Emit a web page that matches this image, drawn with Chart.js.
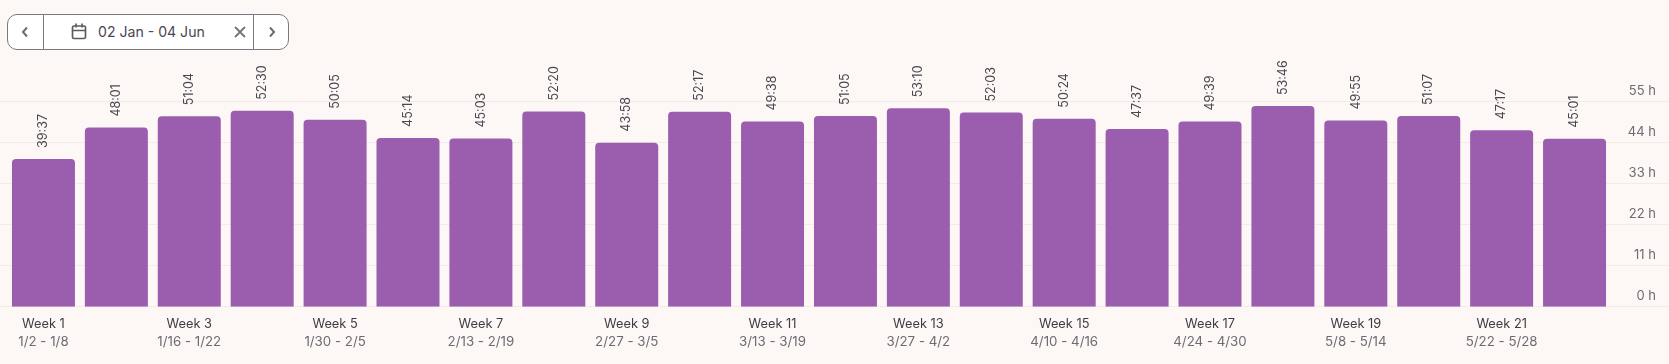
<!DOCTYPE html>
<html>
<head>
<meta charset="utf-8">
<script src="https://cdn.jsdelivr.net/npm/chart.js@4/dist/chart.umd.min.js"></script>
<style>
html,body{margin:0;padding:0;background:#FDF8F6;width:1669px;height:364px;overflow:hidden;font-family:Inter,sans-serif}
#wrap{position:relative;width:1669px;height:364px}
canvas{position:absolute;left:0;top:0}
#picker{position:absolute;left:7px;top:14px;width:282px;height:36px;box-sizing:border-box;border:1px solid #7d7880;border-radius:10px;background:#fff;color:#4b4650;font-size:14.1px;overflow:hidden}
#picker .d{position:absolute;top:0;bottom:0;width:1px;background:#7d7880}
#picker svg{position:absolute}
#picker span{position:absolute;left:90px;top:8px;line-height:18px;white-space:nowrap}
</style>
</head>
<body>
<div id="wrap">
<canvas id="c" width="1669" height="364"></canvas>
<div id="picker">
  <div class="d" style="left:35px"></div>
  <div class="d" style="left:245px"></div>
  <svg style="left:11px;top:11px" width="12" height="12" viewBox="0 0 12 12" fill="none" stroke="#6f6a73" stroke-width="2"><path d="M8 1.5 L4 6 L8 10.5"/></svg>
  <svg style="left:63px;top:8px" width="16" height="18" viewBox="0 0 16 18" fill="none" stroke="#5f5a63" stroke-width="1.7"><rect x="1.5" y="3" width="13" height="12.5" rx="1.5"/><path d="M1.5 7.5H14.5M5 .5V4.5M11 .5V4.5"/></svg>
  <span>02 Jan - 04 Jun</span>
  <svg style="left:226px;top:11px" width="12" height="12" viewBox="0 0 12 12" fill="none" stroke="#77727a" stroke-width="1.8"><path d="M1 1L11 11M11 1L1 11"/></svg>
  <svg style="left:258px;top:11px" width="12" height="12" viewBox="0 0 12 12" fill="none" stroke="#6f6a73" stroke-width="2"><path d="M4 1.5 L8 6 L4 10.5"/></svg>
</div>
</div>
<script>
const weeks = ["Week 1","Week 2","Week 3","Week 4","Week 5","Week 6","Week 7","Week 8","Week 9","Week 10","Week 11","Week 12","Week 13","Week 14","Week 15","Week 16","Week 17","Week 18","Week 19","Week 20","Week 21","Week 22"];
const ranges = ["1/2 - 1/8","1/9 - 1/15","1/16 - 1/22","1/23 - 1/29","1/30 - 2/5","2/6 - 2/12","2/13 - 2/19","2/20 - 2/26","2/27 - 3/5","3/6 - 3/12","3/13 - 3/19","3/20 - 3/26","3/27 - 4/2","4/3 - 4/9","4/10 - 4/16","4/17 - 4/23","4/24 - 4/30","5/1 - 5/7","5/8 - 5/14","5/15 - 5/21","5/22 - 5/28","5/29 - 6/4"];
const durations = ["39:37","48:01","51:04","52:30","50:05","45:14","45:03","52:20","43:58","52:17","49:38","51:05","53:10","52:03","50:24","47:37","49:39","53:46","49:55","51:07","47:17","45:01"];
const hours = durations.map(s => { const [h,m] = s.split(":").map(Number); return h + m/60; });
const yTicks = [0,11,22,33,44,55];

const GRID = "#F1EBE9", BAR = "#9B5EAF";

const fullGrid = {
  id: "fullGrid",
  beforeDatasetsDraw(chart) {
    const {ctx, scales:{y}} = chart;
    ctx.save();
    ctx.strokeStyle = GRID; ctx.lineWidth = 1;
    yTicks.forEach(t => {
      const p = Math.floor(y.getPixelForValue(t)) + 0.5;
      ctx.beginPath(); ctx.moveTo(0,p); ctx.lineTo(chart.width,p); ctx.stroke();
    });
    ctx.restore();
  }
};
const valueLabels = {
  id: "valueLabels",
  afterDatasetsDraw(chart) {
    const {ctx} = chart;
    const meta = chart.getDatasetMeta(0);
    ctx.save();
    ctx.font = "12.5px Inter";
    ctx.fillStyle = "#4b4650";
    ctx.textAlign = "left";
    ctx.textBaseline = "middle";
    meta.data.forEach((b,i) => {
      ctx.save();
      ctx.translate(b.x, b.y - 11);
      ctx.rotate(-Math.PI/2);
      ctx.fillText(durations[i], 0, 0);
      ctx.restore();
    });
    ctx.restore();
  }
};

new Chart(document.getElementById("c"), {
  type: "bar",
  data: {
    labels: weeks,
    datasets: [{
      data: hours, xAxisID: "x", yAxisID: "y",
      backgroundColor: BAR,
      borderRadius: {topLeft:4, topRight:4, bottomLeft:0, bottomRight:0},
      borderSkipped: false,
      categoryPercentage: 1,
      barPercentage: 63/72.9
    }]
  },
  options: {
    responsive: false,
    animation: false,
    layout: { padding: { left: 7, right: 13, top: 101.5, bottom: 0 } },
    plugins: { legend: {display:false}, tooltip: {enabled:false} },
    scales: {
      x: {
        position: "bottom",
        labels: weeks,
        grid: {display:false, drawTicks:false},
        border: {display:false},
        ticks: {
          autoSkip:false, maxRotation:0, padding: 10, color:"#3f3b44",
          font:{family:"Inter", size:12.8},
          callback(v,i){ return i%2===0 ? this.getLabelForValue(v) : ""; }
        },
        afterFit(s){ s.height = 26; }
      },
      x2: {
        position: "bottom",
        labels: ranges,
        grid: {display:false, drawTicks:false},
        border: {display:false},
        ticks: {
          autoSkip:false, maxRotation:0, padding: 1.3, color:"#6f6a73",
          font:{family:"Inter", size:13.3},
          callback(v,i){ return i%2===0 ? this.getLabelForValue(v) : ""; }
        },
        afterFit(s){ s.height = 31.3; }
      },
      y: {
        position: "right",
        min: 0, max: 55,
        afterBuildTicks(s){ s.ticks = yTicks.map(v => ({value:v})); },
        grid: {display:false, drawTicks:false},
        border: {display:false},
        ticks: {
          padding: 1, color:"#6f6a73", crossAlign:"far", labelOffset:-10.5,
          font:{family:"Inter", size:13},
          callback(v){ return v + " h"; }
        },
        afterFit(s){ s.width = 45; }
      }
    }
  },
  plugins: [fullGrid, valueLabels]
});
</script>
</body>
</html>
